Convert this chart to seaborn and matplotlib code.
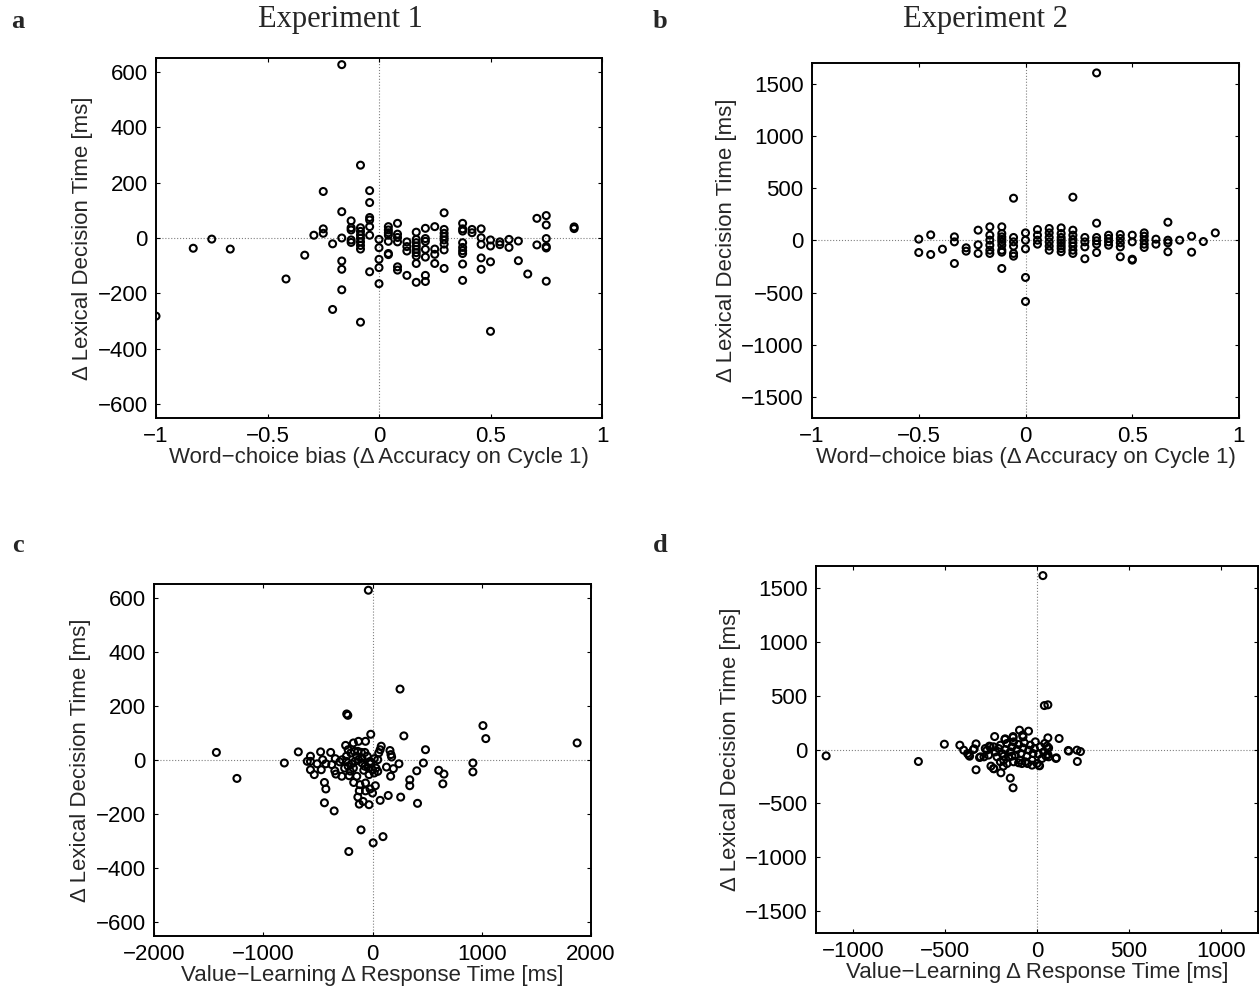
import matplotlib

matplotlib.use("Agg")
import matplotlib.pyplot as plt
import pandas as pd
import seaborn as sns

sns.set_style("ticks")
plt.rcParams["font.family"] = ["Liberation Sans", "DejaVu Sans"]
plt.rcParams["axes.unicode_minus"] = True

_FIG_W = 1260
_FIG_H = 989
_SERIF = ["Liberation Serif", "DejaVu Serif"]

# --- panel a: experiment 1, word-choice bias vs lexical decision time
a_bias = [
    -1.0, -0.833, -0.75, -0.667, -0.417, -0.333, -0.292,
    -0.25, -0.25, -0.25, -0.208, -0.208,
    -0.167, -0.167, -0.167, -0.167, -0.167, -0.167,
    -0.125, -0.125, -0.125, -0.125, -0.125,
    -0.083, -0.083, -0.083, -0.083, -0.083, -0.083, -0.083, -0.083, -0.083,
    -0.042, -0.042, -0.042, -0.042, -0.042, -0.042, -0.042,
    0.0, 0.0, 0.0, 0.0, 0.0,
    0.042, 0.042, 0.042, 0.042, 0.042, 0.042, 0.042,
    0.083, 0.083, 0.083, 0.083, 0.083, 0.083,
    0.125, 0.125, 0.125, 0.125,
    0.167, 0.167, 0.167, 0.167, 0.167, 0.167, 0.167, 0.167, 0.167,
    0.208, 0.208, 0.208, 0.208, 0.208, 0.208, 0.208,
    0.25, 0.25, 0.25, 0.25,
    0.292, 0.292, 0.292, 0.292, 0.292, 0.292, 0.292, 0.292,
    0.375, 0.375, 0.375, 0.375, 0.375, 0.375, 0.375, 0.375, 0.375,
    0.417, 0.417,
    0.458, 0.458, 0.458, 0.458, 0.458,
    0.5, 0.5, 0.5, 0.5,
    0.542, 0.542, 0.583, 0.583, 0.625, 0.625, 0.667,
    0.708, 0.708,
    0.75, 0.75, 0.75, 0.75, 0.75, 0.75,
    0.875, 0.875,
]
a_ldt = [
    -282, -37, -4, -40, -148, -62, 10,
    168, 33, 17, -21, -258,
    626, 95, 0, -83, -113, -187,
    62, 37, 29, -7, -16,
    263, 37, 24, 11, -1, -14, -27, -40, -304,
    171, 128, 74, 65, 41, 10, -122,
    -5, -35, -77, -107, -165,
    41, 29, 19, 10, -12, -56, -60,
    53, 14, 2, -14, -104, -116,
    -14, -31, -47, -135,
    21, -5, -17, -29, -41, -53, -65, -92, -160,
    35, -2, -12, -41, -69, -135, -157,
    41, -40, -59, -92,
    91, 31, 17, 5, -7, -22, -43, -110,
    53, 33, 25, -17, -34, -46, -56, -94, -153,
    31, 19,
    33, 1, -23, -72, -113,
    -7, -29, -86, -337,
    -14, -24, -5, -34, -11, -82, -130,
    71, -25,
    81, 47, -2, -31, -36, -156,
    40, 34,
]

# --- panel b: experiment 2, word-choice bias vs lexical decision time
b_bias = [
    -0.5, -0.5, -0.444, -0.444, -0.389,
    -0.333, -0.333, -0.333, -0.278, -0.278,
    -0.222, -0.222, -0.222,
    -0.167, -0.167, -0.167, -0.167, -0.167, -0.167,
    -0.111, -0.111, -0.111, -0.111, -0.111, -0.111, -0.111, -0.111, -0.111,
    -0.056, -0.056, -0.056, -0.056, -0.056, -0.056,
    0.0, 0.0, 0.0, 0.0, 0.0,
    0.056, 0.056, 0.056, 0.056,
    0.111, 0.111, 0.111, 0.111, 0.111, 0.111,
    0.167, 0.167, 0.167, 0.167, 0.167, 0.167, 0.167, 0.167,
    0.222, 0.222, 0.222, 0.222, 0.222, 0.222, 0.222, 0.222,
    0.278, 0.278, 0.278, 0.278,
    0.333, 0.333, 0.333, 0.333, 0.333, 0.333,
    0.389, 0.389, 0.389, 0.389,
    0.444, 0.444, 0.444, 0.444, 0.444,
    0.5, 0.5, 0.5, 0.5,
    0.556, 0.556, 0.556, 0.556, 0.556,
    0.611, 0.611,
    0.667, 0.667, 0.667, 0.667,
    0.722, 0.778, 0.778, 0.833, 0.889,
]
b_ldt = [
    13, -115, 54, -134, -83,
    35, -13, -220, -70, -102,
    99, -41, -124,
    131, 51, 3, -45, -93, -124,
    131, 67, 35, 10, -13, -45, -93, -112, -268,
    405, 29, -13, -54, -124, -150,
    73, 3, -80, -354, -584,
    105, 51, 3, -35,
    115, 73, 29, -13, -54, -93,
    121, 67, 29, 3, -22, -51, -77, -108,
    415, 99, 51, 10, -22, -54, -93, -124,
    29, -13, -61, -175,
    1605, 166, 29, -3, -35, -115,
    51, 19, -13, -45,
    57, 19, -22, -61, -156,
    51, -13, -179, -188,
    73, 41, 3, -35, -67,
    13, -35,
    175, 3, -22, -108,
    3, 41, -112, -10, 73,
]

# --- panel c: experiment 1, value-learning response time vs lexical decision time
c_rt = [
    -38, 252, -236, -226, -16, 287, 1011, 1037, 1873, -1429, -1241, -807,
    -679, 485, 466, 405, 341, 341, 412, 606, 654, 644, 919, 919, 258, 144,
    70, 242, 166, 191, 169, 160, 175, 128, 26, 0, -32, -121, -105, 96, 6,
    -217, -351, -440, -427, -440, -134, -86, -172, -144, -115, -121, -64,
    -64, -22, -214, -204, -281, -335, -345, -373, -341, -383, -475, -456,
    -469, -568, -568, -568, -597, -533, -507, -427, -300, -278, -246, -223,
    -175, -128, -64,
    -239, -198, -166, -134, -102, -70, -48, -96, -128, -160, -191, -223,
    -255, -239, -96, -70, -16, 16, 48, 57, 80, 70, 32, 0, 48, 16, -38, -32,
    -80, -175, -144, -22,
]
c_ldt = [
    627, 262, 170, 165, 95, 89, 127, 79, 63, 28, -68, -11,
    30, 38, -11, -40, -73, -95, -160, -38, -52, -88, -11, -44, -137, -131,
    -149, -14, -60, -32, 20, 35, 11, -26, -95, -122, -165, -163, -258, -283, -306,
    -338, -188, -158, -107, -83, -137, -153, -83, -60, -91, -114, -114,
    -85, -107, -58, -41, -60, -52, -40, -17, 5, 28, 30, 1,
    -36, 14, -5, -36, -5, -54, -14, -14, -7, 1, 54, 38,
    63, 69, 69,
    14, 26, 32, 32, 28, 28, 14, 7, 1, -5, -14, -23,
    -30, -5, -11, -23, -14, 5, 1, 26, 51, 38, -30, -36, -42, -48, -30, -54,
    -38, -30, 14, -5,
]

# --- panel d: experiment 2, value-learning response time vs lexical decision time
d_rt = [
    32, 40, 59, -1145, -644, -503, -419, -398, -370, -345, -331, -331,
    -307, -288, -259, -230, -173, -130, -95, -46, -78, 59, 120, 63, 59, 105,
    170, 217, 236, 219, 11, -145, -130, -250, -234, -196, -183, -377, -366,
    -341, -312, -281, -254, -236, -174, -130, -76, 58, 63, 103, 14, 172,
    -272, -263, -236, -226, -217, -208, -199, -190, -181, -172, -163, -154,
    -145, -136, -127, -127, -118, -109, -100, -94, -87, -76, -69, -63, -54,
    -45, -36, -27, -22, -14, -9, 0, 9, 18, 27, 36, 42, 49, 54, -27, -82,
    -51, -181, -163, -136, -199, -100,
]
d_ldt = [
    1611, 407, 414, -59, -111, 49, 40, -6, -52, 0, 52, -188,
    -68, -68, 31, 120, 99, 120, 179, 170, 133, 108, 102, 15, -46, -77,
    -9, -6, -19, -111, -148, -265, -355, -154, -179, -216, -154, -37, -62,
    6, -74, 9, 25, -176, 93, 111, 117, 9, -68, -83, -151, -15,
    -6, -52, 25, -22, -68, 9, 40, -37, -99, 0, 56, -68,
    -22, 25, 71, -114, -52, 0, 46, -99, -37, 15, 62, -114, -62,
    -6, 40, -99, -37, 9, 71, -130, -43, 25, -83, -22, 56, -62, 31, -145, -130,
    -130, -62, -130, -62, -114, -123,
]

# tick values and labels
bias_ticks = [-1, -0.5, 0, 0.5, 1]
bias_ticklabels = ["\u22121", "\u22120.5", "0", "0.5", "1"]
ldt_ticks_1 = [-600, -400, -200, 0, 200, 400, 600]
ldt_ticks_2 = [-1500, -1000, -500, 0, 500, 1000, 1500]
rt_ticks_1 = [-2000, -1000, 0, 1000, 2000]
rt_ticks_2 = [-1000, -500, 0, 500, 1000]

BIAS_LABEL = "Word\u2212choice bias (\u0394 Accuracy on Cycle 1)"
RT_LABEL = "Value\u2212Learning \u0394 Response Time [ms]"
LDT_LABEL = "\u0394 Lexical Decision Time [ms]"


def _axes_box(left, top, right, bottom):
    # pixel box -> figure fraction
    return [left / _FIG_W, 1 - bottom / _FIG_H, (right - left) / _FIG_W, (bottom - top) / _FIG_H]


def _draw_panel(axis, x_values, y_values, xlim, ylim, xticks, yticks, xlabel, xticklabels=None):
    frame = pd.DataFrame({"x": x_values, "y": y_values})
    axis.axhline(0, color="0.5", linestyle=":", linewidth=0.8, zorder=0)
    axis.axvline(0, color="0.5", linestyle=":", linewidth=0.8, zorder=0)
    sns.scatterplot(
        data=frame,
        x="x",
        y="y",
        ax=axis,
        marker="o",
        s=25,
        facecolor="none",
        edgecolor="black",
        linewidth=1.5,
        legend=False,
        zorder=3,
    )
    axis.set_xlim(xlim)
    axis.set_ylim(ylim)
    axis.set_xticks(xticks)
    if xticklabels is not None:
        axis.set_xticklabels(xticklabels)
    axis.set_yticks(yticks)
    axis.set_xlabel(xlabel, fontsize=16, labelpad=0)
    axis.set_ylabel(LDT_LABEL, fontsize=16, labelpad=3)
    axis.tick_params(
        direction="in", top=True, right=True, length=3, width=0.8,
        labelsize=16, pad=6, colors="black",
    )
    for spine in axis.spines.values():
        spine.set_visible(True)
        spine.set_linewidth(1.4)
        spine.set_color("black")


fig = plt.figure(figsize=(_FIG_W / 100, _FIG_H / 100), dpi=100)
ax_a = fig.add_axes(_axes_box(156, 58, 602, 418))
ax_b = fig.add_axes(_axes_box(812, 63, 1239, 418))
ax_c = fig.add_axes(_axes_box(154, 584, 591, 936))
ax_d = fig.add_axes(_axes_box(816, 566, 1258, 933))

_draw_panel(ax_a, a_bias, a_ldt, (-1, 1), (-650, 650), bias_ticks, ldt_ticks_1, BIAS_LABEL, bias_ticklabels)
_draw_panel(ax_b, b_bias, b_ldt, (-1, 1), (-1700, 1700), bias_ticks, ldt_ticks_2, BIAS_LABEL, bias_ticklabels)
_draw_panel(ax_c, c_rt, c_ldt, (-2000, 2000), (-650, 650), rt_ticks_1, ldt_ticks_1, RT_LABEL)
_draw_panel(ax_d, d_rt, d_ldt, (-1200, 1200), (-1700, 1700), rt_ticks_2, ldt_ticks_2, RT_LABEL)

# column titles and panel letters
fig.text(340 / _FIG_W, 1 - 20 / _FIG_H, "Experiment 1", ha="center", va="center", fontsize=22, family=_SERIF)
fig.text(985 / _FIG_W, 1 - 20 / _FIG_H, "Experiment 2", ha="center", va="center", fontsize=22, family=_SERIF)
for letter, x_px, y_px in [("a", 18, 22), ("b", 660, 22), ("c", 18, 545), ("d", 660, 545)]:
    fig.text(x_px / _FIG_W, 1 - y_px / _FIG_H, letter, ha="center", va="center",
             fontsize=19, fontweight="bold", family=_SERIF)

fig.savefig("out.png", dpi=100)
plt.close(fig)
